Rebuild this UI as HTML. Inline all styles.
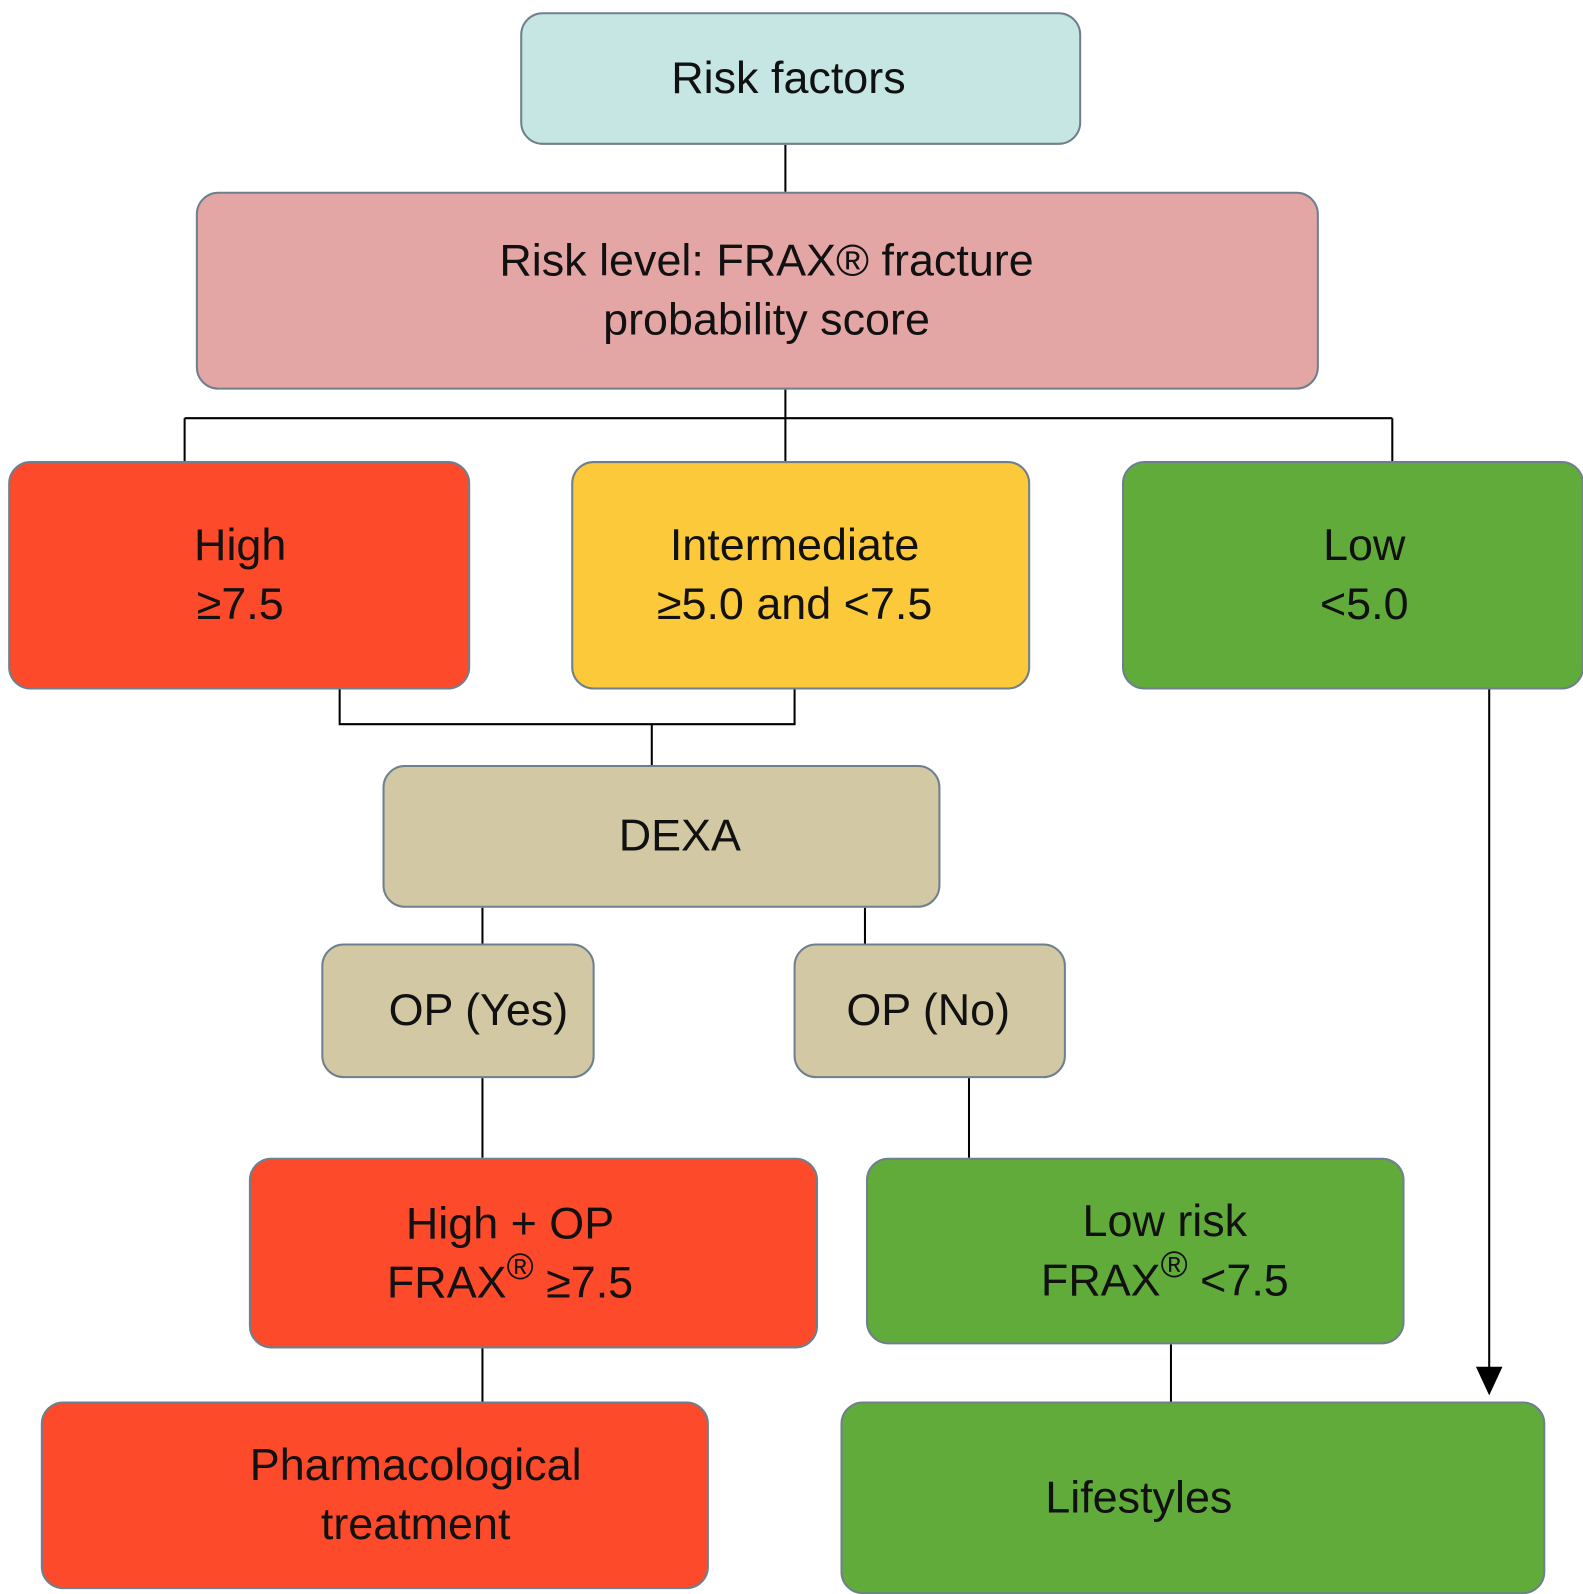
<!DOCTYPE html>
<html><head><style>
html,body{margin:0;padding:0;background:#fff;width:1583px;height:1591px;overflow:hidden}
#c{position:absolute;left:0;top:0;width:1552px;height:1560px;transform:scale(1.02);transform-origin:0 0}
.b{position:absolute;box-sizing:border-box;border:2px solid #6e7f8e;border-radius:22px;display:flex;align-items:center;justify-content:center;text-align:center;font-family:"Liberation Sans",sans-serif;font-size:44px;line-height:58px;color:#111}
.r{background:#fc4a2a}.g{background:#60ab3a}.t{background:#d2c9a4}
sup{font-size:36px;line-height:0;position:relative;top:-18px;vertical-align:baseline}
</style></head><body><div id="c">
<svg width="1552" height="1560" style="position:absolute;left:0;top:0" stroke="#000" stroke-width="2" fill="none">
<path d="M770 142V188M770 382V410M181 410H1365M181 410V452M770 410V452M1365 410V452M333 676V710H779V676M639 710V750M473 890V925M848 890V925M473 1057V1135M950 1057V1135M473 1322V1374M1148 1318V1374M1460 676V1345"/>
<polygon points="1447,1340 1473,1340 1460,1368" fill="#000" stroke="none"/>
</svg>
<div class="b" style="left:510px;top:12px;width:550px;height:130px;background:#c5e6e3;padding-right:24px"><div>Risk factors</div></div>
<div class="b" style="left:192px;top:188px;width:1101px;height:194px;background:#e4a5a5;padding-left:18px"><div>Risk level: FRAX® fracture<br>probability score</div></div>
<div class="b r" style="left:8px;top:452px;width:453px;height:224px;padding-left:2px"><div>High<br>≥7.5</div></div>
<div class="b" style="left:560px;top:452px;width:450px;height:224px;background:#fcc93a;padding-right:12px"><div>Intermediate<br>≥5.0 and &lt;7.5</div></div>
<div class="b g" style="left:1100px;top:452px;width:453px;height:224px;padding-left:22px"><div>Low<br>&lt;5.0</div></div>
<div class="b t" style="left:375px;top:750px;width:547px;height:140px;padding-left:36px"><div>DEXA</div></div>
<div class="b t" style="left:315px;top:925px;width:268px;height:132px;padding-left:40px"><div>OP (Yes)</div></div>
<div class="b t" style="left:778px;top:925px;width:267px;height:132px;padding-right:3px"><div>OP (No)</div></div>
<div class="b r" style="left:244px;top:1135px;width:558px;height:187px;padding-right:46px"><div>High + OP<br>FRAX<sup>®</sup> ≥7.5</div></div>
<div class="b g" style="left:849px;top:1135px;width:528px;height:183px;padding-left:58px"><div>Low risk<br>FRAX<sup>®</sup> &lt;7.5</div></div>
<div class="b r" style="left:40px;top:1374px;width:655px;height:184px;padding-left:80px"><div>Pharmacological<br>treatment</div></div>
<div class="b g" style="left:824px;top:1374px;width:691px;height:189px;padding-right:106px"><div>Lifestyles</div></div>
</div></body></html>
